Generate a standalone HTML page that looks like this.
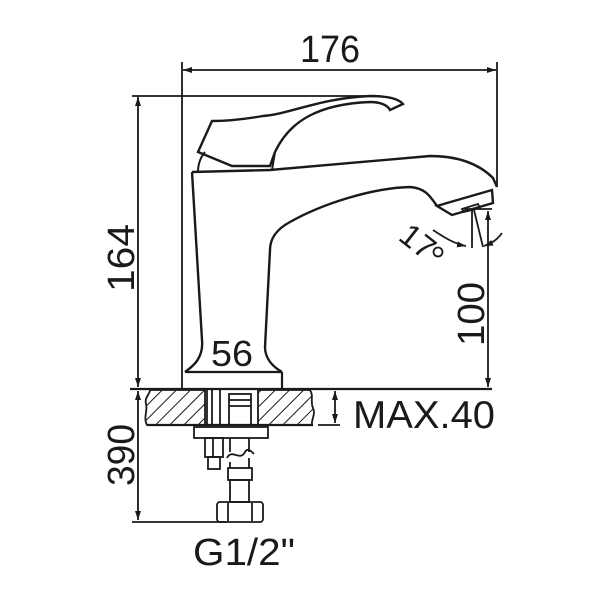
<!DOCTYPE html>
<html><head><meta charset="utf-8"><style>
html,body{margin:0;padding:0;background:#fff;}
svg{display:block;}
text{font-family:"Liberation Sans",sans-serif;fill:#1a1a1a;}
</style></head><body>
<svg width="600" height="600" viewBox="0 0 600 600" xmlns="http://www.w3.org/2000/svg">
<defs>
<pattern id="h" width="10" height="10" patternUnits="userSpaceOnUse" patternTransform="rotate(45)">
<line x1="0" y1="0" x2="0" y2="10" stroke="#1a1a1a" stroke-width="2"/>
</pattern>
<marker id="a" markerWidth="10" markerHeight="8" refX="9" refY="4" orient="auto-start-reverse" markerUnits="userSpaceOnUse">
<path d="M0,1 L9,4 L0,7 z" fill="#1a1a1a"/>
</marker>
</defs>
<g fill="none" stroke="#1a1a1a" stroke-width="1.8">
<!-- top dimension -->
<line x1="182" y1="62" x2="182" y2="390"/>
<line x1="497" y1="62" x2="497" y2="187"/>
<line x1="183" y1="70" x2="496" y2="70" marker-start="url(#a)" marker-end="url(#a)"/>
<!-- 164 -->
<line x1="132" y1="96" x2="372" y2="96"/>
<line x1="138" y1="97" x2="138" y2="387" marker-start="url(#a)" marker-end="url(#a)"/>
<!-- base line -->
<line x1="130" y1="389" x2="492" y2="389" stroke-width="2.2"/>
<!-- handle -->
<path d="M212,121 L198,152 L232,166 L270,166 L275,152 C290,120 320,104 370,102 C382,102 388,106 390,110 L403,104 C398,98 385,96 370,96 C320,98 290,114 263,116 C240,120 225,121 212,121 Z" stroke-width="2.4"/>
<path d="M205,152 C200,158 198,165 198,172 M275,152 L272,170" stroke-width="2"/>
<!-- body -->
<path d="M192,172 L270,170 L430,156 C460,156 480,165 493,178 L497,187" stroke-width="2.4"/>
<path d="M192,172 L202,340 C204,360 190,368 185,372" stroke-width="2.4"/>
<path d="M437,206 C430,196 425,188 410,187 C370,188 320,205 290,222 C275,230 270,240 270,250 L265,347 C265,360 275,368 282,372" stroke-width="2.4"/>
<line x1="185" y1="372" x2="282" y2="372" stroke-width="2.2"/>
<line x1="282" y1="372" x2="282" y2="389" stroke-width="2.2"/>
<!-- aerator -->
<path d="M437,206 L447,203 L492,190 L493,203 L452,215 Z" stroke-width="2.4"/>
<path d="M462,209 L478,204 L480,208 L464,212 Z" stroke-width="1.8"/>
<!-- angle -->
<line x1="472" y1="210" x2="472" y2="248"/>
<line x1="474" y1="210" x2="483" y2="247"/>
<path d="M433,230 C445,238 455,244 466,246" marker-end="url(#a)"/>
<path d="M502,233 C497,240 492,243 484,246" marker-end="url(#a)"/>
<!-- 100 -->
<line x1="464" y1="209" x2="492" y2="209"/>
<line x1="488" y1="211" x2="488" y2="387" marker-start="url(#a)" marker-end="url(#a)"/>
<!-- counter plate -->
<path d="M150,390 L205,390 L205,425 L147,425 C143,418 148,410 146,404 C144,398 150,394 150,390 Z" fill="url(#h)"/>
<path d="M258,390 L310,390 C314,396 310,402 313,408 C316,414 311,420 312,425 L258,425 Z" fill="url(#h)"/>
<line x1="147" y1="425" x2="313" y2="425" stroke-width="2.2"/>
<line x1="207" y1="390" x2="207" y2="425"/>
<line x1="212" y1="390" x2="212" y2="425"/>
<line x1="220" y1="390" x2="220" y2="425"/>
<rect x="229" y="394" width="22" height="31"/>
<line x1="229" y1="400" x2="251" y2="400"/>
<line x1="229" y1="406" x2="251" y2="406"/>
<!-- MAX 40 -->
<line x1="318" y1="425" x2="340" y2="425"/>
<line x1="335" y1="391" x2="335" y2="423" marker-start="url(#a)" marker-end="url(#a)"/>
<!-- under -->
<rect x="194" y="427" width="74" height="11"/>
<rect x="205" y="438" width="18" height="19"/>
<line x1="213" y1="438" x2="213" y2="457"/>
<rect x="208" y="457" width="12" height="12"/>
<line x1="230" y1="438" x2="230" y2="452"/>
<line x1="249" y1="438" x2="249" y2="452"/>
<path d="M227,458 C232,448 240,462 245,452 C248,447 252,452 254,454"/>
<line x1="230" y1="462" x2="230" y2="468"/>
<line x1="249" y1="458" x2="249" y2="468"/>
<rect x="228" y="468" width="24" height="12"/>
<rect x="230" y="480" width="19" height="22"/>
<rect x="217" y="502" width="46" height="20" rx="3"/>
<line x1="228" y1="503" x2="228" y2="521"/>
<line x1="252" y1="503" x2="252" y2="521"/>
<!-- 390 -->
<line x1="132" y1="522" x2="226" y2="522"/>
<line x1="138" y1="391" x2="138" y2="520" marker-start="url(#a)" marker-end="url(#a)"/>
</g>
<circle cx="438" cy="252" r="4.5" fill="none" stroke="#1a1a1a" stroke-width="1.8"/>
<text x="300" y="62" font-size="38" textLength="60" lengthAdjust="spacingAndGlyphs">176</text>
<text transform="translate(134,292) rotate(-90)" font-size="38" textLength="68" lengthAdjust="spacingAndGlyphs">164</text>
<text transform="translate(484,346) rotate(-90)" font-size="38" textLength="64" lengthAdjust="spacingAndGlyphs">100</text>
<text transform="translate(134,486) rotate(-90)" font-size="38" textLength="62" lengthAdjust="spacingAndGlyphs">390</text>
<text x="211" y="366" font-size="36" textLength="42" lengthAdjust="spacingAndGlyphs">56</text>
<text transform="translate(411,250) rotate(38)" font-size="32" text-anchor="middle">17</text>
<text x="353" y="428" font-size="39" textLength="142" lengthAdjust="spacingAndGlyphs">MAX.40</text>
<text x="193" y="565" font-size="38" textLength="102" lengthAdjust="spacingAndGlyphs">G1/2"</text>
</svg>
</body></html>
